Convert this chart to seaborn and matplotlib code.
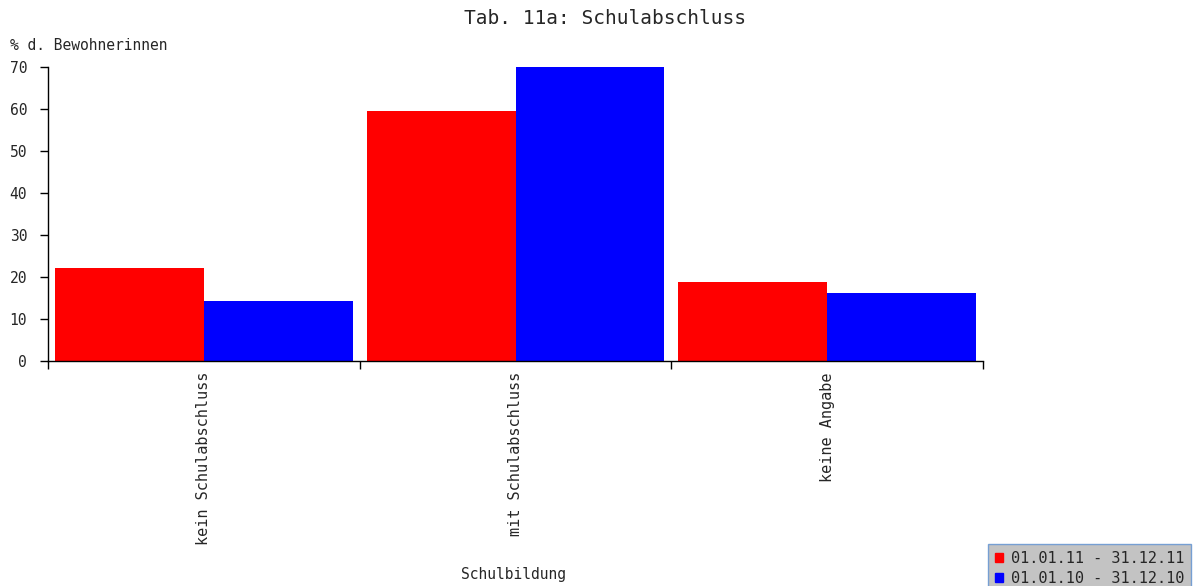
import pandas as pd
import seaborn as sns
import matplotlib.pyplot as plt
from matplotlib.ticker import FixedLocator

categories = ['kein Schulabschluss', 'mit Schulabschluss', 'keine Angabe']
periods = ['01.01.11 - 31.12.11', '01.01.10 - 31.12.10']
values_2011 = [22.1, 59.5, 18.7]
values_2010 = [14.3, 70.0, 16.1]

df = pd.DataFrame({
    'Schulbildung': categories * 2,
    'Zeitraum': [periods[0]] * 3 + [periods[1]] * 3,
    'Anteil': values_2011 + values_2010,
})

sns.set_theme(style='white')
plt.rcParams['font.family'] = ['DejaVu Sans Mono']

fig = plt.figure(figsize=(11.97, 5.86), dpi=100)
ax = fig.add_axes([48 / 1197, 1 - 361 / 586, (983 - 48) / 1197, (361 - 67) / 586])

sns.barplot(data=df, x='Schulbildung', y='Anteil', hue='Zeitraum',
            palette=['#ff0000', '#0000ff'], width=0.955, gap=0,
            saturation=1, linewidth=0, legend=False, ax=ax)

ax.set_xlim(-0.5, 2.5)
ax.set_ylim(0, 70)
ax.set_yticks(range(0, 71, 10))
ax.tick_params(axis='y', length=6, width=1, labelsize=10.5, pad=9, color='black', left=True)
ax.tick_params(axis='x', which='major', length=0, labelsize=11, rotation=90, pad=8)
ax.xaxis.set_minor_locator(FixedLocator([-0.5, 0.5, 1.5, 2.5]))
ax.tick_params(axis='x', which='minor', length=6, width=1, color='black', bottom=True)

sns.despine(ax=ax)
for s in ['left', 'bottom']:
    ax.spines[s].set_color('black')
    ax.spines[s].set_linewidth(1)

ax.set_xlabel('')
ax.set_ylabel('')
fig.text(605 / 1197, 1 - 18 / 586, 'Tab. 11a: Schulabschluss', ha='center', va='center', fontsize=14)
fig.text(10 / 1197, 1 - 45 / 586, '% d. Bewohnerinnen', ha='left', va='center', fontsize=10.5)
fig.text(513 / 1197, 1 - 574 / 586, 'Schulbildung', ha='center', va='center', fontsize=10.5)

handles = [plt.Rectangle((0, 0), 1, 1, color=c) for c in ['#ff0000', '#0000ff']]
leg = fig.legend(handles, periods, loc='lower left', bbox_to_anchor=(988 / 1197, -0.012),
                 fontsize=11, frameon=True, fancybox=False, handlelength=0.55, handleheight=0.55,
                 handletextpad=0.5, borderpad=0.45, labelspacing=0.35, borderaxespad=0)
leg.get_frame().set_facecolor('#b4b4b4')
leg.get_frame().set_edgecolor('#5b8fd0')
leg.get_frame().set_linewidth(1)

fig.savefig('out.png', dpi=100)
